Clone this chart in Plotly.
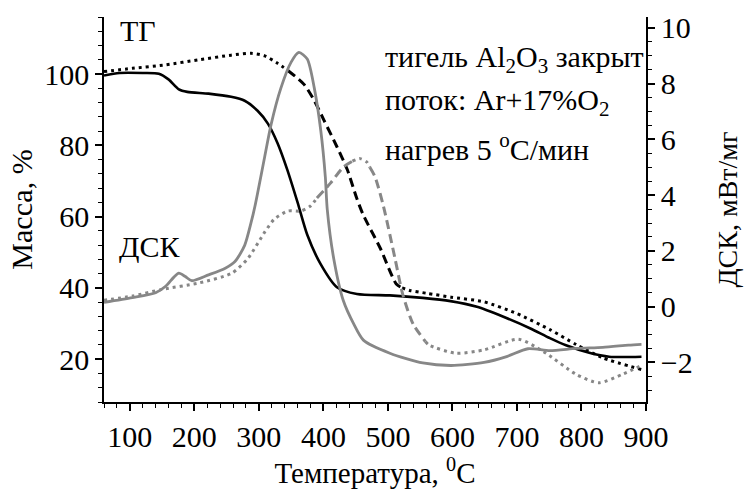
import plotly.graph_objects as go

# ---------------- data ----------------
# TG, solid black (left axis, mass %)
tg_solid_T = [60, 84, 120, 145, 160, 176, 189, 222, 257, 278, 298, 314, 329, 344, 360,
              375, 396, 421, 452, 503, 554, 597, 638, 679, 720, 751, 776, 812, 843, 893]
tg_solid_m = [99.6, 100.3, 100.3, 100.1, 98.5, 95.7, 95.0, 94.5, 93.6, 92.5, 89.7, 86.1, 80.6, 73.2, 64.0,
              54.9, 46.6, 40.2, 38.3, 37.9, 37.2, 36.3, 34.7, 31.9, 28.7, 25.9, 23.9, 21.8, 20.7, 20.7]

# TG, dotted black (left axis)
tg_dot_T = [60, 104, 156, 207, 257, 288, 309, 329, 345, 370, 386, 401, 421, 437, 452, 462,
            488, 513, 522, 534, 560, 598, 649, 700, 751, 792, 833, 893]
tg_dot_m = [100.7, 101.6, 102.6, 104.0, 105.3, 105.8, 105.1, 103.0, 101.0, 97.1, 92.5, 87.0, 79.6, 73.2, 65.0, 60.4,
            51.2, 41.1, 40.0, 39.3, 38.5, 37.4, 36.1, 32.8, 28.3, 24.1, 20.4, 17.1]

# DSC, solid grey (right axis, mW/mg)
dsc_solid_T = [60, 104, 140, 156, 168, 176, 186, 196, 222, 248, 263, 278, 288, 294, 309, 319, 334, 350,
               362, 375, 386, 396, 403, 406, 416, 431, 447, 462, 503, 554, 598, 649, 684, 717, 751,
               792, 833, 873, 893]
dsc_solid_v = [0.15, 0.32, 0.50, 0.74, 1.05, 1.20, 1.08, 0.93, 1.14, 1.38, 1.62, 2.20, 3.02, 3.61, 5.37, 6.54, 7.83, 8.77,
               9.12, 8.88, 7.83, 6.31, 4.66, 3.49, 1.73, 0.21, -0.62, -1.20, -1.67, -2.02, -2.11, -2.00, -1.79, -1.51, -1.58,
               -1.50, -1.46, -1.38, -1.35]

# DSC, dotted grey (right axis)
dsc_dot_T = [60, 104, 150, 207, 258, 283, 309, 324, 345, 365, 380, 390, 411, 431, 445, 457, 467, 472,
             480, 493, 511, 523, 539, 558, 564, 605, 649, 702, 741, 792, 827, 863, 893]
dsc_dot_v = [0.23, 0.38, 0.62, 0.85, 1.20, 1.73, 2.67, 3.14, 3.43, 3.43, 3.61, 3.90, 4.43, 5.01, 5.22, 5.31, 5.19, 5.00,
             4.66, 3.61, 1.73, 0.44, -0.62, -1.25, -1.38, -1.67, -1.55, -1.17, -1.61, -2.43, -2.73, -2.43, -2.11]

x_ticks = [100, 200, 300, 400, 500, 600, 700, 800, 900]

# temperatures where the dotted curves are drawn as dashes (steep parts)
tg_dash_ranges = [(345, 522)]
dsc_dash_ranges = [(390, 445), (472, 558)]

# ---------------- styling ----------------
FONT = "'Liberation Serif', 'Times New Roman', serif"
BLACK = "#000000"
GREY = "#878787"
DOT = "3px,4px"
DASH = "9px,5px"


def pieces(T, V, dash_ranges):
    """Split a curve into dotted / dashed parts at given data temperatures."""
    bounds = [T[0]]
    for a, b in dash_ranges:
        bounds += [a, b]
    bounds.append(T[-1])
    out = []
    for i in range(len(bounds) - 1):
        lo, hi = bounds[i], bounds[i + 1]
        idx = [k for k, t in enumerate(T) if lo <= t <= hi]
        style = DASH if i % 2 == 1 else DOT
        out.append(([T[k] for k in idx], [V[k] for k in idx], style))
    return out


fig = go.Figure()

# TG solid
fig.add_trace(go.Scatter(x=tg_solid_T, y=tg_solid_m, mode="lines",
                         line=dict(color=BLACK, width=2.6, shape="spline", smoothing=0.7),
                         yaxis="y", showlegend=False, hoverinfo="skip"))
# TG dotted
for xs, ys, st in pieces(tg_dot_T, tg_dot_m, tg_dash_ranges):
    fig.add_trace(go.Scatter(x=xs, y=ys, mode="lines",
                             line=dict(color=BLACK, width=3, dash=st, shape="spline", smoothing=0.7),
                             yaxis="y", showlegend=False, hoverinfo="skip"))
# DSC solid
fig.add_trace(go.Scatter(x=dsc_solid_T, y=dsc_solid_v, mode="lines",
                         line=dict(color=GREY, width=2.8, shape="spline", smoothing=0.7),
                         yaxis="y2", showlegend=False, hoverinfo="skip"))
# DSC dotted
for xs, ys, st in pieces(dsc_dot_T, dsc_dot_v, dsc_dash_ranges):
    fig.add_trace(go.Scatter(x=xs, y=ys, mode="lines",
                             line=dict(color=GREY, width=3, dash=st, shape="spline", smoothing=0.7),
                             yaxis="y2", showlegend=False, hoverinfo="skip"))

axis_common = dict(showgrid=False, zeroline=False, showline=True, linecolor=BLACK, linewidth=1.6,
                   ticks="outside", ticklen=7, tickwidth=1.6, tickcolor=BLACK,
                   tickfont=dict(family=FONT, size=30, color=BLACK))

fig.update_layout(
    width=750, height=491,
    margin=dict(l=104, r=98, t=14, b=84),
    paper_bgcolor="white", plot_bgcolor="white",
    font=dict(family=FONT, size=28, color=BLACK),
    xaxis=dict(range=[60, 900], tickmode="array", tickvals=x_ticks,
               minor=dict(dtick=20, tick0=0, ticks="outside", ticklen=4, tickwidth=1.4, tickcolor=BLACK),
               title=dict(text="Температура, <sup>0</sup>C", font=dict(family=FONT, size=29), standoff=6),
               **axis_common),
    yaxis=dict(range=[8, 116], tickmode="linear", tick0=0, dtick=20,
               minor=dict(dtick=4, tick0=0, ticks="outside", ticklen=4, tickwidth=1.4, tickcolor=BLACK),
               title=dict(text="Масса, %", font=dict(family=FONT, size=30), standoff=3),
               **axis_common),
    yaxis2=dict(range=[-3.42, 10.39], tickmode="linear", tick0=0, dtick=2, overlaying="y", side="right",
                minor=dict(dtick=0.5, tick0=0, ticks="outside", ticklen=4, tickwidth=1.4, tickcolor=BLACK),
                title=dict(text="ДСК, мВт/мг", font=dict(family=FONT, size=28), standoff=26),
                **axis_common),
)

ann_font = dict(family=FONT, size=30, color=BLACK)
fig.add_annotation(x=0.026, y=0.964, xref="paper", yref="paper", xanchor="left", yanchor="middle",
                   text="ТГ", showarrow=False, font=dict(family=FONT, size=30, color=BLACK))
fig.add_annotation(x=0.024, y=0.405, xref="paper", yref="paper", xanchor="left", yanchor="middle",
                   text="ДСК", showarrow=False, font=dict(family=FONT, size=30, color=BLACK))
fig.add_annotation(x=0.514, y=0.891, xref="paper", yref="paper", xanchor="left", yanchor="middle",
                   text="тигель Al<sub>2</sub>O<sub>3</sub> закрыт", showarrow=False, font=ann_font)
fig.add_annotation(x=0.514, y=0.779, xref="paper", yref="paper", xanchor="left", yanchor="middle",
                   text="поток: Ar+17%O<sub>2</sub>", showarrow=False, font=ann_font)
fig.add_annotation(x=0.514, y=0.662, xref="paper", yref="paper", xanchor="left", yanchor="middle",
                   text="нагрев 5 <sup>o</sup>C/мин", showarrow=False, font=ann_font)

fig.write_html("out.html")
